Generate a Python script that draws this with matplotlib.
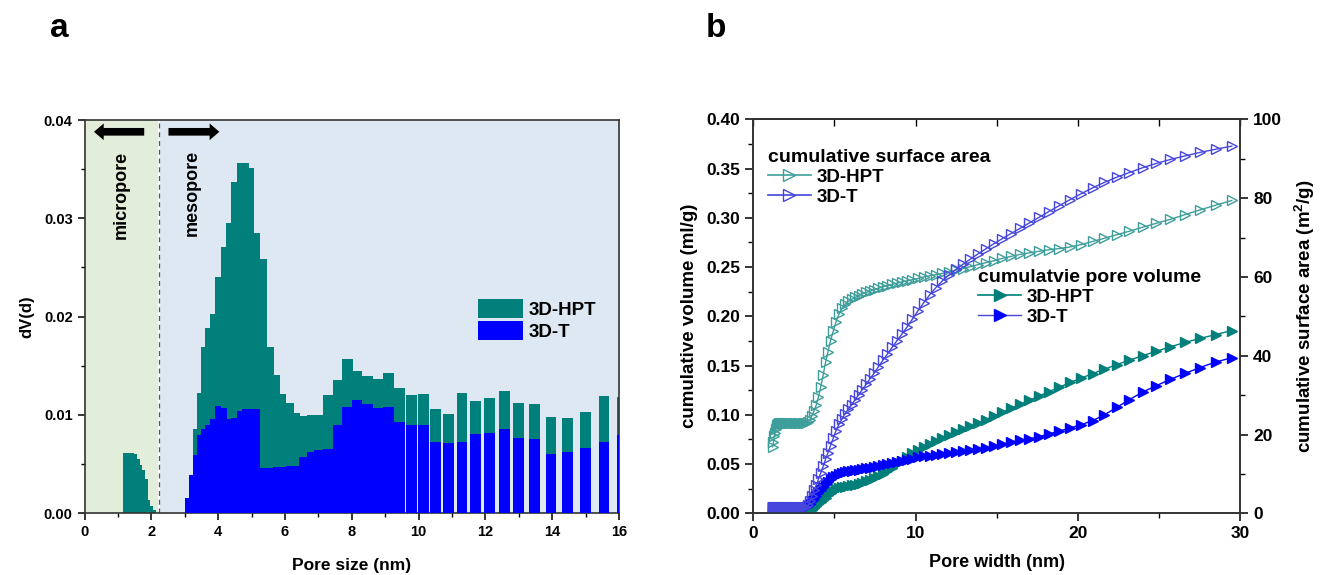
import numpy as np
import matplotlib
matplotlib.use("Agg")
import matplotlib.pyplot as plt
from matplotlib.lines import Line2D

plt.rcParams['font.family'] = ['Liberation Sans', 'DejaVu Sans']
plt.rcParams['font.weight'] = 'bold'
plt.rcParams['axes.labelweight'] = 'bold'
plt.rcParams['mathtext.fontset'] = 'custom'
plt.rcParams['mathtext.rm'] = 'Liberation Sans:bold'
plt.rcParams['mathtext.bf'] = 'Liberation Sans:bold'
plt.rcParams['mathtext.it'] = 'Liberation Sans:bold'

# ---------------- panel a data ----------------
pore_size = [1.20, 1.28, 1.36, 1.44, 1.52, 1.60, 1.68, 1.76, 1.84, 1.92, 2.00, 2.08,
             3.07, 3.19, 3.31, 3.44, 3.57, 3.69, 3.84, 4.00, 4.17, 4.33, 4.49, 4.65,
             4.82, 4.99, 5.16, 5.35, 5.55, 5.74, 5.93, 6.14, 6.35, 6.55, 6.78, 7.02,
             7.30, 7.59, 7.88, 8.16, 8.47, 8.79, 9.11, 9.43, 9.78, 10.14, 10.50, 10.89,
             11.30, 11.70, 12.13, 12.58, 13.00, 13.48, 13.97, 14.47, 14.99, 15.55, 16.10]
dv_hpt = [0.0061, 0.0061, 0.0061, 0.0061, 0.0060, 0.0055, 0.0049, 0.0044, 0.0035, 0.0013, 0.0007, 0.0003,
          0.0012, 0.0035, 0.0085, 0.0122, 0.0169, 0.0188, 0.0203, 0.0240, 0.0271, 0.0295, 0.0337, 0.0356,
          0.0356, 0.0351, 0.0285, 0.0259, 0.0169, 0.0140, 0.0121, 0.0112, 0.0102, 0.0099, 0.0100, 0.0100,
          0.0120, 0.0135, 0.0157, 0.0145, 0.0139, 0.0136, 0.0142, 0.0127, 0.0120, 0.0121, 0.0106, 0.0101,
          0.0122, 0.0114, 0.0117, 0.0124, 0.0112, 0.0111, 0.0098, 0.0097, 0.0103, 0.0119, 0.0118]
dv_t = [0, 0, 0, 0, 0, 0, 0, 0, 0, 0, 0, 0,
        0.00156, 0.0039, 0.0059, 0.0079, 0.0085, 0.0090, 0.0096, 0.0109, 0.0107, 0.0096, 0.0097, 0.0104,
        0.0106, 0.0106, 0.0106, 0.0046, 0.0046, 0.0047, 0.0047, 0.0048, 0.0048, 0.0057, 0.0062, 0.0064,
        0.0065, 0.0090, 0.0108, 0.0115, 0.0111, 0.0107, 0.0108, 0.0093, 0.0090, 0.0090, 0.0072, 0.0071,
        0.0072, 0.0080, 0.0081, 0.0086, 0.0076, 0.0075, 0.0060, 0.0062, 0.0066, 0.0072, 0.0079]
series_a = ['3D-HPT', '3D-T']

# ---------------- panel b data ----------------
pore_width = [1.20, 1.24, 1.29, 1.33, 1.38, 1.43, 1.48, 1.53, 1.58, 1.64,
              1.69, 1.75, 1.82, 1.88, 1.95, 2.01, 2.08, 2.16, 2.23, 2.31,
              2.39, 2.48, 2.56, 2.65, 2.75, 2.84, 2.94, 3.05, 3.15, 3.26,
              3.38, 3.50, 3.62, 3.74, 3.88, 4.01, 4.15, 4.30, 4.45, 4.60,
              4.76, 4.93, 5.10, 5.28, 5.47, 5.66, 5.86, 6.06, 6.27, 6.49,
              6.72, 6.96, 7.20, 7.45, 7.71, 7.98, 8.26, 8.55, 8.85, 9.16,
              9.48, 9.81, 10.15, 10.51, 10.88, 11.26, 11.65, 12.06, 12.48, 12.92,
              13.37, 13.84, 14.32, 14.82, 15.34, 15.88, 16.43, 17.01, 17.60, 18.22,
              18.86, 19.52, 20.20, 20.91, 21.64, 22.40, 23.18, 23.99, 24.83, 25.70,
              26.60, 27.53, 28.49, 29.49]
surf_hpt = [16.9, 18.0, 19.5, 20.5, 21.3, 21.9, 22.3, 22.6, 22.8, 22.9,
            23.0, 23.0, 23.0, 23.0, 23.0, 23.0, 23.0, 23.0, 23.0, 23.0,
            23.0, 23.0, 23.0, 23.0, 23.0, 23.0, 23.0, 23.0, 23.0, 23.0,
            23.3, 23.8, 24.8, 26.0, 27.5, 29.5, 32.0, 35.0, 38.3, 41.0,
            43.8, 46.3, 48.6, 50.6, 52.1, 53.1, 53.8, 54.3, 54.8, 55.2,
            55.7, 56.1, 56.4, 56.8, 57.1, 57.5, 57.8, 58.1, 58.4, 58.7,
            59.0, 59.3, 59.6, 60.0, 60.3, 60.6, 60.9, 61.3, 61.7, 62.1,
            62.6, 63.1, 63.6, 64.1, 64.7, 65.2, 65.7, 66.1, 66.5, 66.9,
            67.2, 67.6, 68.2, 69.0, 69.8, 70.7, 71.6, 72.6, 73.6, 74.6,
            75.8, 77.0, 78.2, 79.4]
surf_t = [1.5, 1.5, 1.5, 1.5, 1.5, 1.5, 1.5, 1.5, 1.5, 1.5,
          1.5, 1.5, 1.5, 1.5, 1.5, 1.5, 1.5, 1.5, 1.5, 1.5,
          1.5, 1.5, 1.5, 1.5, 1.5, 1.5, 1.5, 1.5, 1.5, 1.5,
          2.0, 3.0, 4.4, 5.8, 7.2, 8.6, 10.2, 11.9, 13.7, 15.4,
          17.2, 19.1, 21.0, 22.6, 24.0, 25.3, 26.5, 27.6, 28.8, 30.1,
          31.4, 32.8, 34.2, 35.6, 37.2, 38.8, 40.4, 42.1, 43.8, 45.5,
          47.3, 49.3, 51.4, 53.5, 55.5, 57.3, 59.0, 60.5, 61.9, 63.2,
          64.5, 65.8, 67.1, 68.4, 69.7, 71.0, 72.3, 73.7, 75.1, 76.6,
          78.1, 79.6, 81.1, 82.6, 84.0, 85.3, 86.5, 87.7, 88.8, 89.8,
          90.7, 91.6, 92.4, 93.2]
vol_hpt = [0.001, 0.001, 0.001, 0.001, 0.001, 0.001, 0.001, 0.001, 0.001, 0.001,
           0.001, 0.001, 0.001, 0.001, 0.001, 0.001, 0.001, 0.001, 0.001, 0.001,
           0.001, 0.001, 0.001, 0.001, 0.001, 0.001, 0.001, 0.001, 0.001, 0.001,
           0.001, 0.002, 0.0035, 0.005, 0.007, 0.009, 0.011, 0.0135, 0.016, 0.0185,
           0.021, 0.023, 0.0245, 0.0255, 0.0265, 0.0272, 0.0278, 0.0284, 0.029, 0.0298,
           0.031, 0.0325, 0.034, 0.036, 0.038, 0.040, 0.043, 0.0465, 0.050, 0.0535,
           0.057, 0.061, 0.0645, 0.0675, 0.0705, 0.0735, 0.0763, 0.0792, 0.0822, 0.0853,
           0.0885, 0.0918, 0.0952, 0.0988, 0.1025, 0.1065, 0.1105, 0.1148, 0.119, 0.1235,
           0.128, 0.1328, 0.1372, 0.1418, 0.1463, 0.151, 0.1555, 0.160, 0.1645, 0.169,
           0.1735, 0.1775, 0.1815, 0.1855]
vol_t = [0.0065, 0.0065, 0.0065, 0.0065, 0.0065, 0.0065, 0.0065, 0.0065, 0.0065, 0.0065,
         0.0065, 0.0065, 0.0065, 0.0065, 0.0065, 0.0065, 0.0065, 0.0065, 0.0065, 0.0065,
         0.0065, 0.0065, 0.0065, 0.0065, 0.0065, 0.0065, 0.0065, 0.0065, 0.0065, 0.0065,
         0.0075, 0.0095, 0.012, 0.0145, 0.018, 0.021, 0.024, 0.027, 0.0298, 0.032,
         0.0345, 0.0365, 0.038, 0.0395, 0.0408, 0.0418, 0.0425, 0.0432, 0.0438, 0.0444,
         0.045, 0.0458, 0.0465, 0.0473, 0.0482, 0.0492, 0.0502, 0.0512, 0.0522, 0.0532,
         0.0543, 0.0555, 0.0567, 0.0577, 0.0585, 0.0593, 0.060, 0.0608, 0.0618, 0.0628,
         0.064, 0.065, 0.066, 0.068, 0.0702, 0.0722, 0.074, 0.0755, 0.0778, 0.0805,
         0.0835, 0.0865, 0.090, 0.094, 0.100, 0.1075, 0.1155, 0.123, 0.1295, 0.136,
         0.142, 0.148, 0.1535, 0.158]

TEAL = '#007F7B'
BLUE = '#0000FF'
TEAL_L = '#3E9E9B'
BLUE_L = '#4646DC'

fig = plt.figure(figsize=(13.23, 5.75), dpi=100)

# ================= panel a =================
axa = fig.add_axes([0.0639, 0.1078, 0.4039, 0.6835])
axa.set_xlim(0, 16)
axa.set_ylim(0, 0.04)
axa.axvspan(0, 2.2, color='#E2EEDA', zorder=0, lw=0)
axa.axvspan(2.27, 16, color='#DDE8F3', zorder=0, lw=0)
axa.axvline(2.23, color='#555555', ls=(0, (4, 3)), lw=0.9, zorder=1)

xs = np.array(pore_size)
d = np.diff(xs)
fwd = np.append(d, np.inf)
bwd = np.insert(d, 0, np.inf)
widths = np.minimum(np.minimum(fwd, bwd) * 1.15, 0.32)

b1 = axa.bar(xs, dv_hpt, width=widths, color=TEAL, lw=0, zorder=2)
b2 = axa.bar(xs, dv_t, width=widths, color=BLUE, lw=0, zorder=3)

axa.annotate('', xy=(0.2, 0.0388), xytext=(1.87, 0.0388),
             arrowprops=dict(arrowstyle='simple,head_length=0.7,head_width=1.2,tail_width=0.55',
                             mutation_scale=10, color='black', lw=0), zorder=5)
axa.annotate('', xy=(4.12, 0.0388), xytext=(2.43, 0.0388),
             arrowprops=dict(arrowstyle='simple,head_length=0.7,head_width=1.2,tail_width=0.55',
                             mutation_scale=10, color='black', lw=0), zorder=5)
axa.text(1.11, 0.0324, 'micropore', rotation=90, ha='center', va='center', fontsize=13, fontweight='bold')
axa.text(3.22, 0.0326, 'mesopore', rotation=90, ha='center', va='center', fontsize=13, fontweight='bold')

axa.set_xticks(np.arange(0, 17, 2))
axa.set_xticks(np.arange(0, 17, 1), minor=True)
axa.set_yticks([0, 0.01, 0.02, 0.03, 0.04])
axa.set_yticks(np.arange(0, 0.0401, 0.005), minor=True)
axa.yaxis.set_major_formatter(matplotlib.ticker.FormatStrFormatter('%.2f'))
axa.tick_params(which='major', direction='out', length=5, width=1.1, labelsize=10.5)
axa.tick_params(which='minor', direction='out', length=3, width=1.0)
for s in axa.spines.values():
    s.set_linewidth(1.2)
    s.set_color('#333333')
axa.set_xlabel('Pore size (nm)', fontsize=12.5, labelpad=14)
axa.set_ylabel('dV(d)', fontsize=12, labelpad=7)

axa.legend([b1, b2], series_a, loc='upper left', bbox_to_anchor=(0.736, 0.545),
           frameon=False, fontsize=13.5, handlelength=2.4, handleheight=1.2,
           labelspacing=0.1, handletextpad=0.3, borderpad=0, borderaxespad=0)

# ================= panel b =================
axb = fig.add_axes([0.5694, 0.1073, 0.3679, 0.6852])
ax2 = axb.twinx()
axb.set_xlim(0, 30)
axb.set_ylim(0, 0.40)
ax2.set_ylim(0, 100)

msz = 7.5
l_vh, = axb.plot(pore_width, vol_hpt, color=TEAL, lw=1.0, marker='>', ms=msz,
                 mfc=TEAL, mec=TEAL, zorder=3)
l_vt, = axb.plot(pore_width, vol_t, color=BLUE, lw=1.0, marker='>', ms=msz,
                 mfc=BLUE, mec=BLUE, zorder=4)
l_sh, = ax2.plot(pore_width, surf_hpt, color=TEAL_L, lw=1.0, marker='>', ms=msz,
                 mfc='none', mec=TEAL_L, mew=1.0)
l_st, = ax2.plot(pore_width, surf_t, color=BLUE_L, lw=1.0, marker='>', ms=msz,
                 mfc='none', mec=BLUE_L, mew=1.0)

axb.set_xticks([0, 10, 20, 30])
axb.set_xticks(np.arange(0, 31, 5), minor=True)
axb.set_yticks(np.arange(0, 0.401, 0.05))
axb.set_yticks(np.arange(0, 0.401, 0.025), minor=True)
axb.yaxis.set_major_formatter(matplotlib.ticker.FormatStrFormatter('%.2f'))
ax2.set_yticks(np.arange(0, 101, 20))
ax2.set_yticks(np.arange(0, 101, 10), minor=True)
for a in (axb, ax2):
    a.tick_params(which='major', direction='out', length=6, width=1.1, labelsize=12.5)
    a.tick_params(which='minor', direction='out', length=3.5, width=1.0)
    for s in a.spines.values():
        s.set_linewidth(1.2)
        s.set_color('#333333')
sec = axb.secondary_xaxis('top')
sec.set_xticks([0, 10, 20, 30])
sec.set_xticks(np.arange(0, 31, 5), minor=True)
sec.tick_params(which='both', direction='in', labeltop=False, length=5, width=1.0)
sec.spines['top'].set_linewidth(1.2)

axb.set_xlabel('Pore width (nm)', fontsize=13, labelpad=9)
axb.set_ylabel('cumulative volume (ml/g)', fontsize=13.5, labelpad=6)
ax2.set_ylabel(r'cumulative surface area (m$^{2}$/g)', fontsize=13.5, labelpad=8)

h_sh = Line2D([], [], color=TEAL_L, lw=1.2, marker='>', ms=8, mfc='none', mec=TEAL_L)
h_st = Line2D([], [], color=BLUE_L, lw=1.2, marker='>', ms=8, mfc='none', mec=BLUE_L)
h_vh = Line2D([], [], color=TEAL, lw=1.2, marker='>', ms=8, mfc=TEAL, mec=TEAL)
h_vt = Line2D([], [], color=BLUE_L, lw=1.0, marker='>', ms=8, mfc=BLUE, mec=BLUE)

leg1 = ax2.legend([h_sh, h_st], ['3D-HPT', '3D-T'], title='cumulative surface area',
                  loc='upper left', bbox_to_anchor=(0.03, 0.925), frameon=False,
                  fontsize=13.5, title_fontproperties={'weight': 'bold', 'size': 14},
                  alignment='left', handlelength=2.3, handletextpad=0.3,
                  labelspacing=0.15, borderpad=0, borderaxespad=0, numpoints=1)
ax2.add_artist(leg1)
ax2.legend([h_vh, h_vt], ['3D-HPT', '3D-T'], title='cumulatvie pore volume',
           loc='upper left', bbox_to_anchor=(0.462, 0.62), frameon=False,
           fontsize=13.5, title_fontproperties={'weight': 'bold', 'size': 14},
           alignment='left', handlelength=2.3, handletextpad=0.3,
           labelspacing=0.15, borderpad=0, borderaxespad=0, numpoints=1)

fig.text(50 / 1323, 1 - 37 / 575, 'a', fontsize=24, fontweight='bold', va='baseline')
fig.text(706 / 1323, 1 - 37 / 575, 'b', fontsize=24, fontweight='bold', va='baseline')

fig.savefig('out.png', dpi=100)
